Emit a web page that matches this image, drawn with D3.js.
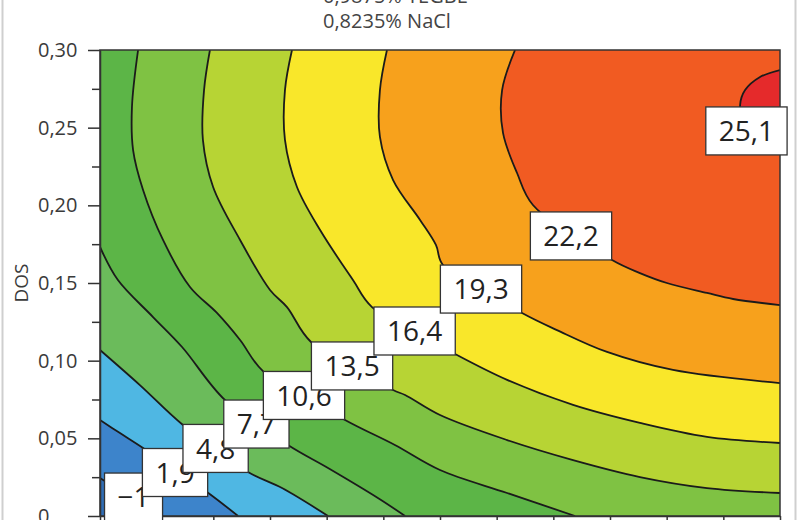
<!DOCTYPE html>
<html lang="en">
<head>
  <meta charset="utf-8">
  <title>Contour DOS</title>
  <script src="https://d3js.org/d3.v7.min.js" charset="utf-8"></script>
  <style type="text/css">
    body { margin: 0; background: #fff; }
    svg text { font-family: "Open Sans", "Noto Sans", sans-serif; }
  </style>
</head>
<body>
  <script type="text/javascript">
    // contour levels and the colour of each band (below first level ... above last level)
    var levels = [-1.0, 1.9, 4.8, 7.7, 10.6, 13.5, 16.4, 19.3, 22.2, 25.1];
    var bandColors = ["#2f6db5", "#3d84cb", "#4fb7e3", "#6bbb5b", "#5cb547", "#7fc243",
                      "#b7d434", "#f9e72a", "#f7a11c", "#f15b22", "#e52a2b"];
    var labelText = ["\u22121", "1,9", "4,8", "7,7", "10,6", "13,5", "16,4", "19,3", "22,2", "25,1"];
    // where each level label sits (x, DOS)
    var labelAt = [[0.0148, 0.0122], [0.0331, 0.028], [0.051, 0.0435], [0.069, 0.0592],
                   [0.09, 0.0776], [0.1112, 0.0966], [0.1388, 0.1191], [0.1681, 0.1461],
                   [0.2078, 0.1803], [0.2852, 0.2479]];

    // contour lines, each from its low-side end to the other end
    var lineM10 = [[0.0221, 0], [0.011, 0.0135], [0, 0.0245]];
    var line19 = [[0.0609, 0], [0.0472, 0.0155], [0.019, 0.0438], [0.0088, 0.0534], [0, 0.0618]];
    var line48 = [[0.1006, 0], [0.0803, 0.018], [0.0653, 0.0283], [0.0366, 0.0586], [0.0176, 0.0843], [0, 0.1069]];
    var line77 = [[0.1346, 0], [0.1226, 0.0116], [0.1006, 0.0309], [0.0829, 0.0457], [0.0551, 0.0747],
                  [0.0362, 0.1088], [0.0234, 0.1281], [0.0079, 0.1519], [0, 0.1732]];
    var line106 = [[0.2096, 0], [0.1796, 0.0148], [0.15, 0.0296], [0.1301, 0.0457], [0.1081, 0.0618],
                   [0.0719, 0.0933], [0.0618, 0.1133], [0.0516, 0.1307], [0.0397, 0.1474], [0.0278, 0.1777],
                   [0.019, 0.2099], [0.0146, 0.2356], [0.0141, 0.2633], [0.0168, 0.3]];
    var line135 = [[0.3, 0.0148], [0.2678, 0.018], [0.2382, 0.0251], [0.2087, 0.036], [0.1796, 0.0489],
                   [0.15, 0.065], [0.1346, 0.0779], [0.1293, 0.0811], [0.0931, 0.112], [0.0825, 0.1345],
                   [0.075, 0.1455], [0.0618, 0.1777], [0.0499, 0.2118], [0.0454, 0.2421], [0.0459, 0.2742], [0.0485, 0.3]];
    var line164 = [[0.3, 0.047], [0.2678, 0.0509], [0.2382, 0.0599], [0.2087, 0.0715], [0.1796, 0.0876],
                   [0.1575, 0.1036], [0.12, 0.1345], [0.1116, 0.1519], [0.0971, 0.1841], [0.0869, 0.2118],
                   [0.0816, 0.2421], [0.0816, 0.2742], [0.0847, 0.3]];
    var line193 = [[0.3, 0.0856], [0.2528, 0.094], [0.2237, 0.1056], [0.2016, 0.1197], [0.1862, 0.1307],
                   [0.1513, 0.1616], [0.1482, 0.1745], [0.1412, 0.1906], [0.1293, 0.2163], [0.1235, 0.244],
                   [0.1235, 0.2742], [0.1266, 0.3]];
    var line222 = [[0.3, 0.1358], [0.2793, 0.1397], [0.2678, 0.1436], [0.2501, 0.15], [0.2382, 0.1564],
                   [0.2259, 0.1648], [0.191, 0.2002], [0.184, 0.2208], [0.1778, 0.2466], [0.1774, 0.2742], [0.1831, 0.3]];
    var line251 = [[0.3, 0.2421], [0.2846, 0.2485], [0.2824, 0.2646], [0.2846, 0.2742], [0.2912, 0.2826], [0.3, 0.2871]];
    var contourLines = [lineM10, line19, line48, line77, line106, line135, line164, line193, line222, line251];

    var xTicks = [0, 0.025, 0.05, 0.075, 0.1, 0.125, 0.15, 0.175, 0.2, 0.225, 0.25, 0.275, 0.3];
    var yTicks = [0, 0.025, 0.05, 0.075, 0.1, 0.125, 0.15, 0.175, 0.2, 0.225, 0.25, 0.275, 0.3];
    var titleLines = ["0,9875% TEGBE", "0,8235% NaCl"];

    var X0 = 100, X1 = 780, Y0 = 50, Y1 = 516;
    var x = d3.scaleLinear().domain([0, 0.30]).range([X0, X1]);
    var y = d3.scaleLinear().domain([0, 0.30]).range([Y1, Y0]);

    var svg = d3.select("body").append("svg").attr("width", 800).attr("height", 520);

    // panel frame
    svg.append("rect").attr("x", 2.5).attr("y", -10).attr("width", 793).attr("height", 545)
      .style("fill", "none").style("stroke", "#cfcfcf").style("stroke-width", 2);

    svg.append("defs").append("clipPath").attr("id", "plotClip")
      .append("rect").attr("x", X0).attr("y", Y0).attr("width", X1 - X0).attr("height", Y1 - Y0);

    var plot = svg.append("g").attr("clip-path", "url(#plotClip)");

    var line = d3.line()
      .x(function(d) { return x(d[0]); })
      .y(function(d) { return y(d[1]); })
      .curve(d3.curveCatmullRom.alpha(0.5));

    // position of a border point, walking clockwise from the top-left corner
    function perim(px, py) {
      if (Math.abs(py - Y0) < 1.5) return (px - X0) / (X1 - X0);
      if (Math.abs(px - X1) < 1.5) return 1 + (py - Y0) / (Y1 - Y0);
      if (Math.abs(py - Y1) < 1.5) return 2 + (X1 - px) / (X1 - X0);
      return 3 + (Y1 - py) / (Y1 - Y0);
    }
    var corners = [[X0, Y0], [X1, Y0], [X1, Y1], [X0, Y1]];

    function bandPath(pts) {
      var s = pts[0], e = pts[pts.length - 1];
      var ts = perim(x(s[0]), y(s[1])), te = perim(x(e[0]), y(e[1]));
      if (ts <= te) ts += 4;
      var d = line(pts);
      for (var c = Math.ceil(te); c < ts; c++) {
        var k = corners[c % 4];
        d += "L" + k[0] + "," + k[1];
      }
      return d + "Z";
    }

    plot.append("rect").attr("x", X0).attr("y", Y0).attr("width", X1 - X0).attr("height", Y1 - Y0)
      .style("fill", bandColors[0]);

    plot.selectAll("path.band").data(contourLines).enter().append("path")
      .attr("class", "band")
      .attr("d", bandPath)
      .style("fill", function(d, i) { return bandColors[i + 1]; })
      .style("stroke", "none");

    plot.selectAll("path.level").data(contourLines).enter().append("path")
      .attr("class", "level")
      .attr("d", line)
      .style("fill", "none")
      .style("stroke", "#1b1b1b")
      .style("stroke-width", 1.8);

    // frame of plot
    svg.append("rect").attr("x", X0).attr("y", Y0).attr("width", X1 - X0).attr("height", Y1 - Y0)
      .style("fill", "none").style("stroke", "#333").style("stroke-width", 1.5);

    function isMajor(d) { return Math.abs(d / 0.05 - Math.round(d / 0.05)) < 1e-6; }

    var yAxis = svg.append("g").attr("transform", "translate(" + X0 + ",0)")
      .call(d3.axisLeft(y).tickValues(yTicks).tickSizeOuter(0)
        .tickFormat(function(d) {
          if (!isMajor(d)) return "";
          return d === 0 ? "0" : d3.format(".2f")(d).replace(".", ",");
        }));
    yAxis.select(".domain").style("stroke", "#333").style("stroke-width", 1.5);
    yAxis.selectAll(".tick line")
      .attr("x2", function(d) { return isMajor(d) ? -12 : -8; })
      .style("stroke", "#333").style("stroke-width", 1.5);
    yAxis.selectAll(".tick text")
      .attr("x", -62).attr("text-anchor", "start")
      .style("font-size", "20px").style("fill", "#3a3a3a").style("font-family", "Open Sans");

    var xAxis = svg.append("g").attr("transform", "translate(0," + Y1 + ")")
      .call(d3.axisBottom(x).tickValues(xTicks).tickSize(8).tickSizeOuter(0).tickFormat(""));
    xAxis.select(".domain").style("stroke", "#333").style("stroke-width", 1.5);
    xAxis.selectAll(".tick line").style("stroke", "#333").style("stroke-width", 1.5);

    svg.append("text")
      .attr("transform", "translate(28,283) rotate(-90)")
      .attr("text-anchor", "middle")
      .style("font-size", "19px").style("fill", "#3a3a3a")
      .text("DOS");

    svg.selectAll("text.title").data(titleLines).enter().append("text")
      .attr("class", "title")
      .attr("x", 323)
      .attr("y", function(d, i) { return 3 + i * 25; })
      .style("font-size", "20px").style("fill", "#444")
      .text(function(d) { return d; });

    // level labels, drawn in order so the higher boxes sit on top
    levels.forEach(function(lv, i) {
      var cx = x(labelAt[i][0]), cy = y(labelAt[i][1]);
      var g = svg.append("g");
      var rect = g.append("rect");
      var t = g.append("text")
        .attr("x", cx).attr("y", cy).attr("dy", "0.36em")
        .attr("text-anchor", "middle")
        .style("font-size", "28px").style("fill", "#222")
        .text(labelText[i]);
      var w = t.node().getComputedTextLength() + 26;
      rect.attr("x", cx - w / 2).attr("y", cy - 24).attr("width", w).attr("height", 48)
        .style("fill", "#fff").style("stroke", "#333").style("stroke-width", 1.3);
    });
  </script>
</body>
</html>
